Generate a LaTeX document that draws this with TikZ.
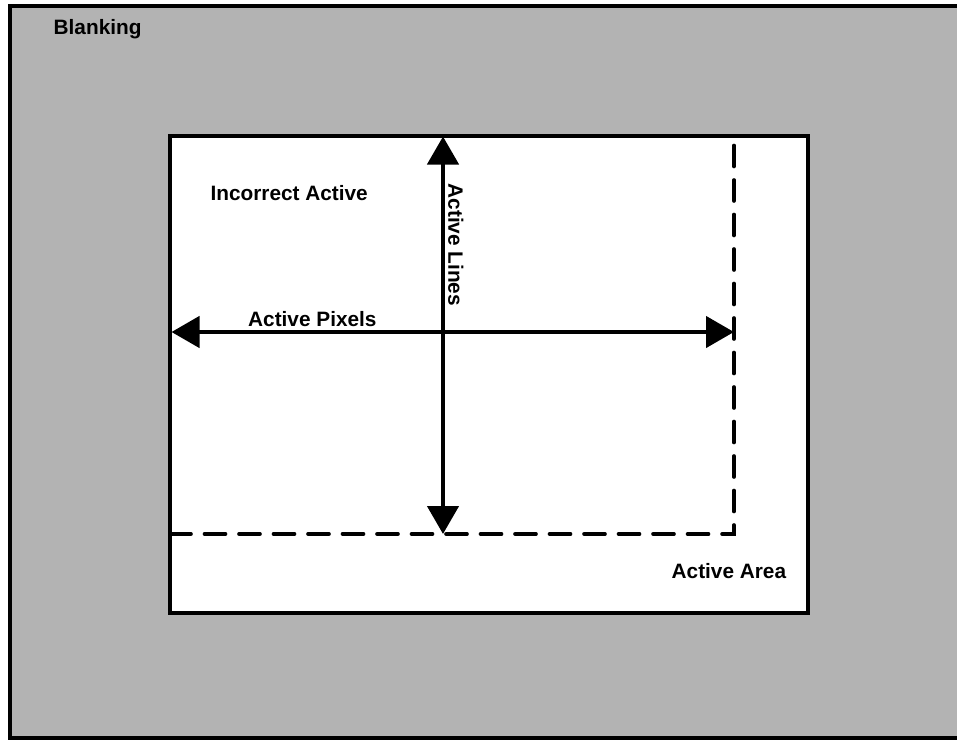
\documentclass[tikz,border=0pt]{standalone}
\usepackage{fontspec}
\setmainfont{Liberation Sans}
\usetikzlibrary{arrows.meta}
\definecolor{blankgray}{RGB}{179,179,179}
\tikzset{
  lbl/.style={inner sep=0pt, anchor=base west, font=\fontsize{20.8bp}{25bp}\selectfont\bfseries},
  bigarrow/.style={line width=4.5bp, {Triangle[length=28bp,width=31bp]}-{Triangle[length=28bp,width=31bp]}},
  dashline/.style={line width=3.6bp, line cap=round, dash pattern=on 21bp off 13.5bp},
}
\begin{document}
\begin{tikzpicture}[x=1bp,y=-1bp]
\useasboundingbox (0,0) rectangle (957,740);
% outer blanking area
\draw[line width=4.5bp, fill=blankgray] (10,6) rectangle (964,738.5);
% inner active area
\draw[line width=3.3bp, fill=white] (170,136) rectangle (808,613);
% coordinates
\coordinate (dtop) at (734,136);
\coordinate (dcorner) at (734,534);
\coordinate (dleft) at (170,534);
\coordinate (vtop) at (443,136.5);
\coordinate (vbot) at (443,534);
\coordinate (hleft) at (171.5,332);
\coordinate (hright) at (734,332);
% dashed incorrect active area
\draw[dashline] (dleft) -- (dcorner) -- (dtop);
% arrows
\draw[bigarrow] (vtop) -- (vbot);
\draw[bigarrow] (hleft) -- (hright);
% labels
\node[lbl] (blank) at (53.5,35) {Blanking};
\node[lbl] (incorrect) at (210.4,200.7) {Incorrect Active};
\node[lbl] (pixels) at (248,326) {Active Pixels};
\node[lbl] (area) at (671.5,578.3) {Active Area};
\node[lbl, rotate=-90] (lines) at (448.3,183.3) {Active Lines};
\end{tikzpicture}
\end{document}
